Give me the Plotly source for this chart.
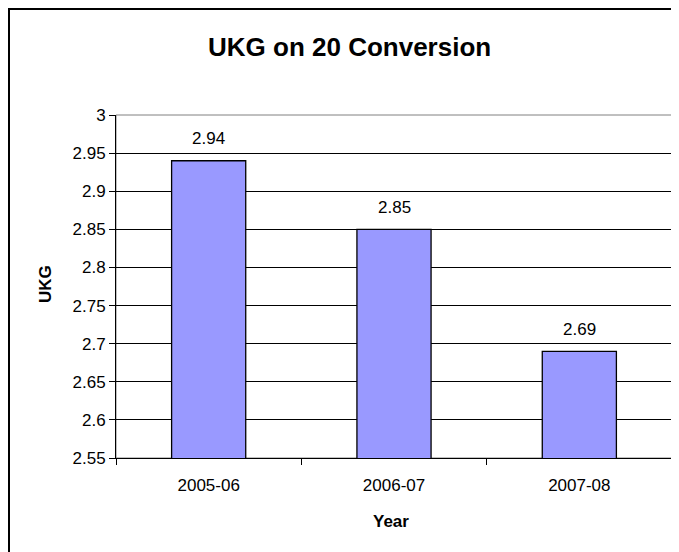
import plotly.graph_objects as go

years = ["2005-06", "2006-07", "2007-08"]
ukg = [2.94, 2.85, 2.69]
labels = ["2.94", "2.85", "2.69"]

# page has an 8px body margin; work in image pixels and shift
OFF = 8
W, H = 671, 544
PL, PR, PT, PB = 116, 672, 115, 458   # plot area in image pixels
L, T = PL - OFF, PT - OFF
R, B = W - (PR - OFF), H - (PB - OFF)
pw, ph = W - L - R, H - T - B

def px_x(x):
    return (x - OFF - L) / pw

def px_y(y):
    return (H - B - (y - OFF)) / ph

FONT = "Liberation Sans, Arial"

fig = go.Figure(go.Bar(
    x=years, y=ukg,
    marker=dict(color="#9999FF", line=dict(color="black", width=1.3)),
    width=0.4,
))

annotations = [
    dict(x=yr, y=v, xref="x", yref="y", text=t, showarrow=False,
         yanchor="middle", yshift=22, font=dict(size=17, family=FONT, color="black"))
    for yr, v, t in zip(years, ukg, labels)
]
annotations += [
    dict(x=px_x(391), y=px_y(521), xref="paper", yref="paper", text="<b>Year</b>",
         showarrow=False, xanchor="center", yanchor="middle",
         font=dict(size=17, family=FONT, color="black")),
    dict(x=px_x(45), y=px_y(284), xref="paper", yref="paper", text="<b>UKG</b>",
         showarrow=False, xanchor="center", yanchor="middle", textangle=-90,
         font=dict(size=17, family=FONT, color="black")),
    dict(x=px_x(349), y=px_y(47), xref="paper", yref="paper",
         text="<b>UKG on 20 Conversion</b>",
         showarrow=False, xanchor="center", yanchor="middle",
         font=dict(size=26, family=FONT, color="black")),
]

fig.update_layout(
    width=W, height=H,
    margin=dict(l=L, r=R, t=T, b=B, autoexpand=False),
    paper_bgcolor="white", plot_bgcolor="white",
    font=dict(family=FONT, size=17, color="black"),
    showlegend=False,
    xaxis=dict(
        type="category", automargin=False,
        showline=True, linecolor="black", linewidth=1,
        ticks="outside", tickson="boundaries", ticklen=6, tickcolor="black",
        tickfont=dict(size=17), ticklabelstandoff=12, showgrid=False,
    ),
    yaxis=dict(
        automargin=False,
        range=[2.55, 3], dtick=0.05, tick0=2.55,
        showline=True, linecolor="black", linewidth=1,
        ticks="outside", ticklen=6, tickcolor="black",
        tickfont=dict(size=17),
        showgrid=True, gridcolor="black", gridwidth=1,
        zeroline=False,
    ),
    annotations=annotations,
    shapes=[
        dict(type="rect", xref="paper", yref="paper", x0=0, x1=1, y0=0, y1=1,
             line=dict(color="#808080", width=1), layer="below"),
        dict(type="rect", xref="paper", yref="paper",
             x0=px_x(9), x1=px_x(720), y0=px_y(600), y1=px_y(9),
             line=dict(color="black", width=2)),
    ],
)

fig.write_html("out.html")
